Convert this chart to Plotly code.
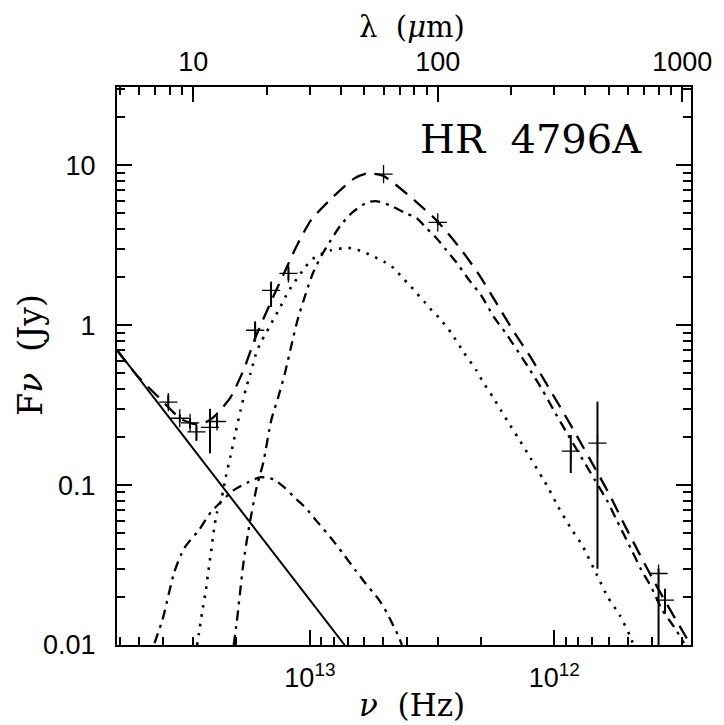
import plotly.graph_objects as go

C_UM_HZ = 2.998e14  # c in micron * Hz

# ---- observed photometry (wavelength in micron, flux in Jy) ----
obs_wav = [7.9, 8.8, 9.7, 10.3, 11.7, 12.5, 17.9, 20.8, 24.5, 60.0, 100.0, 350.0, 450.0, 800.0, 850.0]
obs_flux = [0.33, 0.262, 0.245, 0.215, 0.23, 0.25, 0.93, 1.65, 2.11, 8.8, 4.4, 0.163, 0.183, 0.028, 0.0191]
obs_err_plus = [0.035, 0.015, 0.018, 0.022, 0.07, 0.02, 0.12, 0.20, 0.20, 0.0, 0.15, 0.043, 0.15, 0.002, 0.0034]
obs_err_minus = [0.027, 0.015, 0.018, 0.025, 0.072, 0.02, 0.14, 0.35, 0.20, 0.0, 0.15, 0.044, 0.153, 0.026, 0.0034]

# ---- model curves ----
star_wav = [4.5, 41.6]
star_flux = [0.82, 0.0100]

total_wav = [4.87, 5.87, 7.27, 8.13, 8.92, 10.26, 11.26, 12.37, 13.32, 14.22, 16.05, 17.96, 20.65,
             23.31, 26.31, 30.26, 37.15, 45.60, 51.47, 59.20, 66.20, 82.04, 98.86, 122.5, 146.3,
             172.9, 202.7, 239.7, 283.5, 326.0, 375.0, 439.4, 505.3, 581.0, 768.6, 1036.0, 1116.0]
total_flux = [0.698, 0.487, 0.350, 0.294, 0.2585, 0.2405, 0.2477, 0.2738, 0.3118, 0.355, 0.524, 0.841,
              1.372, 2.054, 3.073, 4.531, 6.31, 8.29, 8.91, 8.66, 7.72, 5.87, 4.53, 3.07, 2.113,
              1.393, 0.931, 0.631, 0.410, 0.286, 0.1968, 0.1277, 0.0866, 0.0562, 0.0248, 0.01122, 0.00931]

cold_wav = [14.63, 15.04, 16.05, 16.82, 18.13, 19.35, 20.84, 22.25, 23.75, 25.59, 26.81, 28.88, 30.83,
            33.84, 36.46, 40.03, 44.76, 51.47, 56.50, 63.78, 72.66, 82.04, 90.07, 98.86, 108.5, 119.1,
            134.5, 150.4, 169.8, 189.8, 228.8, 268.1, 302.6, 341.6, 392.8, 439.4, 491.4, 539.5, 620.2,
            680.8, 747.4, 828.2, 926.2, 1017.0]
cold_flux = [0.0100, 0.01372, 0.0330, 0.0524, 0.0958, 0.1393, 0.2549, 0.3548, 0.508, 0.830, 1.106, 1.585,
             2.113, 2.818, 3.396, 4.217, 5.08, 5.87, 5.96, 5.62, 5.08, 4.667, 4.036, 3.499, 2.944, 2.477,
             1.910, 1.540, 1.122, 0.891, 0.579, 0.393, 0.282, 0.2054, 0.1433, 0.1075, 0.0806, 0.0604,
             0.0393, 0.0294, 0.0230, 0.01655, 0.01296, 0.01029]

warm_wav = [10.36, 10.55, 10.85, 11.26, 11.58, 11.80, 12.14, 12.48, 13.08, 13.57, 14.22, 14.90, 15.61,
            16.35, 17.14, 18.13, 18.99, 19.71, 20.65, 21.63, 22.66, 23.75, 25.11, 26.81, 28.62, 31.41,
            36.46, 40.78, 44.76, 50.06, 55.46, 60.88, 66.20, 71.32, 76.87, 82.04, 88.40, 94.36, 101.7,
            113.7, 128.3, 143.6, 153.2, 168.2, 181.2, 195.3, 212.3, 239.7, 268.1, 283.5, 311.2, 348.0,
            389.2, 447.7, 496.0, 554.6, 608.8, 631.9]
warm_flux = [0.0100, 0.01189, 0.01585, 0.02208, 0.03073, 0.03758, 0.05236, 0.06683, 0.08414, 0.1122,
             0.1540, 0.2144, 0.2943, 0.3926, 0.5012, 0.678, 0.794, 0.879, 1.0, 1.138, 1.296, 1.496, 1.728,
             1.995, 2.304, 2.661, 2.944, 3.03, 3.03, 2.858, 2.661, 2.477, 2.270, 1.995, 1.778, 1.585,
             1.393, 1.241, 1.106, 0.891, 0.668, 0.524, 0.440, 0.355, 0.294, 0.244, 0.1995, 0.1475,
             0.1107, 0.0958, 0.0729, 0.0546, 0.0422, 0.0274, 0.01995, 0.0154, 0.01155, 0.0100]

hot_wav = [6.94, 7.475, 8.36, 9.18, 10.55, 11.80, 12.95, 14.63, 16.82, 18.82, 21.23, 23.75, 26.07, 28.88,
           31.70, 37.15, 40.78, 46.03, 50.52, 57.58, 62.03, 64.99, 69.36, 71.32]
hot_flux = [0.01029, 0.01433, 0.02858, 0.04038, 0.0524, 0.0678, 0.0783, 0.0931, 0.1045, 0.1122, 0.109,
            0.0958, 0.0830, 0.0718, 0.0604, 0.0453, 0.0376, 0.0294, 0.0244, 0.0191, 0.01585, 0.01372,
            0.01122, 0.0100]

# axis ticks
y_tickvals = [0.01, 0.1, 1, 10]
y_ticktext = ["0.01", "0.1", "1", "10"]
nu_tickvals = [1e12, 1e13]
nu_ticktext = ["10<sup>12</sup>", "10<sup>13</sup>"]
lam_tickvals = [10, 100, 1000]
lam_ticktext = ["10", "100", "1000"]

LOG_NU_MAX = 13.789
LOG_NU_MIN = 11.441


def to_nu(wav):
    return [C_UM_HZ / w for w in wav]


def minor_vals(lo_exp, hi_exp):
    vals = []
    for e in range(lo_exp, hi_exp + 1):
        for m in range(2, 10):
            vals.append(m * 10 ** e)
    return vals


fig = go.Figure()

line_w = 2
fig.add_trace(go.Scatter(x=to_nu(star_wav), y=star_flux, mode="lines",
                         line=dict(color="black", width=line_w), showlegend=False))
fig.add_trace(go.Scatter(x=to_nu(hot_wav), y=hot_flux, mode="lines",
                         line=dict(color="black", width=2.3, dash="10px,6px,3px,6px", shape="spline", smoothing=0.6),
                         showlegend=False))
fig.add_trace(go.Scatter(x=to_nu(warm_wav), y=warm_flux, mode="lines",
                         line=dict(color="black", width=2.6, dash="2.5px,7px", shape="spline", smoothing=0.6),
                         showlegend=False))
fig.add_trace(go.Scatter(x=to_nu(cold_wav), y=cold_flux, mode="lines",
                         line=dict(color="black", width=2.3, dash="10px,6px,3px,6px", shape="spline", smoothing=0.6),
                         showlegend=False))
fig.add_trace(go.Scatter(x=to_nu(total_wav), y=total_flux, mode="lines",
                         line=dict(color="black", width=2.3, dash="15px,9px", shape="spline", smoothing=0.6),
                         showlegend=False))
fig.add_trace(go.Scatter(x=to_nu(obs_wav), y=obs_flux, mode="markers",
                         marker=dict(symbol="cross-thin", size=13, line=dict(color="black", width=1.3)),
                         error_y=dict(type="data", array=obs_err_plus, arrayminus=obs_err_minus,
                                      symmetric=False, width=0, thickness=2, color="black"),
                         showlegend=False))
# invisible trace so the top wavelength axis is drawn
fig.add_trace(go.Scatter(x=obs_wav, y=obs_flux, xaxis="x2", mode="markers",
                         marker=dict(opacity=0), hoverinfo="skip", showlegend=False))

tick_font = dict(family="Liberation Sans, Arial, sans-serif", size=27, color="black")
serif = "DejaVu Serif, Liberation Serif, serif"

fig.update_layout(
    width=716, height=717,
    margin=dict(l=109, r=27, t=79, b=80),
    paper_bgcolor="white", plot_bgcolor="white",
    xaxis=dict(type="log", range=[LOG_NU_MAX, LOG_NU_MIN],
               tickmode="array", tickvals=nu_tickvals, ticktext=nu_ticktext,
               ticks="inside", ticklen=15, tickwidth=2, tickcolor="black",
               showline=True, linewidth=2, linecolor="black", mirror=True,
               showgrid=False, zeroline=False, tickfont=tick_font, ticklabelstandoff=8,
               minor=dict(tickmode="array", tickvals=minor_vals(11, 13), ticks="inside",
                          ticklen=8, tickwidth=1.5, tickcolor="black", showgrid=False)),
    xaxis2=dict(type="log", overlaying="x", side="top",
                range=[14.4768 - LOG_NU_MAX, 14.4768 - LOG_NU_MIN],
                tickmode="array", tickvals=lam_tickvals, ticktext=lam_ticktext,
                ticks="inside", ticklen=15, tickwidth=2, tickcolor="black",
                showline=False, showgrid=False, zeroline=False, tickfont=tick_font,
                ticklabelstandoff=10,
                minor=dict(tickmode="array", tickvals=minor_vals(0, 3), ticks="inside",
                           ticklen=8, tickwidth=1.5, tickcolor="black", showgrid=False)),
    yaxis=dict(type="log", range=[-2, 1.49],
               tickmode="array", tickvals=y_tickvals, ticktext=y_ticktext,
               ticks="inside", ticklen=15, tickwidth=2, tickcolor="black",
               showline=True, linewidth=2, linecolor="black", mirror="ticks",
               showgrid=False, zeroline=False, tickfont=tick_font, ticklabelstandoff=14,
               minor=dict(tickmode="array", tickvals=minor_vals(-2, 1), ticks="inside",
                          ticklen=8, tickwidth=1.5, tickcolor="black", showgrid=False)),
    annotations=[
        dict(text="HR\u00a0\u00a04796A", xref="paper", yref="paper", x=0.722, y=0.907,
             xanchor="center", yanchor="middle", showarrow=False,
             font=dict(family=serif, size=40, color="black")),
        dict(text="<i>ν</i>\u00a0\u00a0(Hz)", xref="paper", yref="paper", x=0.514, y=-0.1075,
             xanchor="center", yanchor="middle", showarrow=False,
             font=dict(family=serif, size=31, color="black")),
        dict(text="λ\u00a0\u00a0(<i>μ</i>m)", xref="paper", yref="paper", x=0.514, y=1.107,
             xanchor="center", yanchor="middle", showarrow=False,
             font=dict(family=serif, size=29, color="black")),
        dict(text="F<i>ν</i>\u00a0\u00a0(Jy)", xref="paper", yref="paper", x=-0.15, y=0.52,
             xanchor="center", yanchor="middle", showarrow=False, textangle=-90,
             font=dict(family=serif, size=33, color="black")),
    ],
)

fig.write_html("out.html")
